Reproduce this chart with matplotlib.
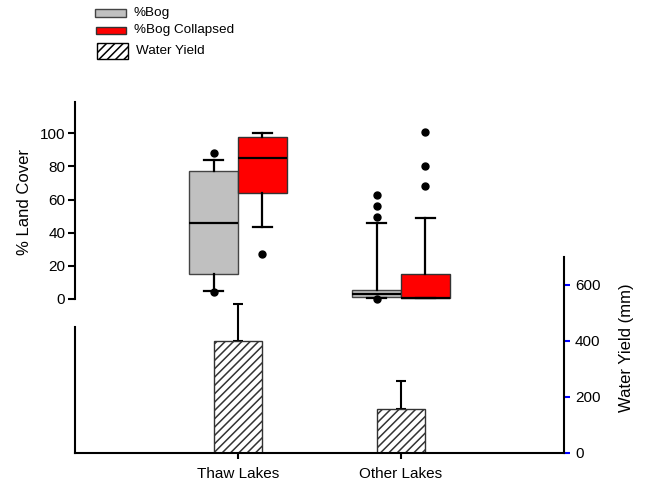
import matplotlib
matplotlib.use("Agg")
import matplotlib.pyplot as plt
from matplotlib.patches import Rectangle

plt.rcParams['font.family'] = ['Liberation Sans', 'DejaVu Sans']
plt.rcParams['hatch.linewidth'] = 1.1

# ---- data ----
categories = ["Thaw Lakes", "Other Lakes"]
# box-plot statistics (% land cover)
bog_whislo = [4.8, 0.8]
bog_q1 = [15.1, 1.4]
bog_med = [46.0, 3.3]
bog_q3 = [77.1, 5.4]
bog_whishi = [83.7, 46.0]
bog_fliers = [[88.1, 4.5], [49.4, 56.0, 62.8, 0.0]]

col_whislo = [43.2, 0.5]
col_q1 = [63.7, 0.5]
col_med = [85.1, 0.5]
col_q3 = [97.8, 15.1]
col_whishi = [100.0, 49.0]
col_fliers = [[27.1], [68.3, 80.1, 100.8]]

# water yield bars (mm)
water_yield = [398, 158]
water_yield_err = [132, 100]

W, H = 646, 487
fig = plt.figure(figsize=(W / 100, H / 100), dpi=100)

def fx(px):
    return px / W

def fy(py):
    return 1 - py / H

left, right = 75, 564
ax_top = fig.add_axes([fx(left), fy(299), fx(right) - fx(left), fy(101.7) - fy(299)])
ax_bot = fig.add_axes([fx(left), fy(453), fx(right) - fx(left), fy(256.7) - fy(453)])

pos = [1, 2]
bw = 0.3

def stats(wl, q1, md, q3, wh, fl):
    return [dict(whislo=a, q1=b, med=c, q3=d, whishi=e, fliers=f)
            for a, b, c, d, e, f in zip(wl, q1, md, q3, wh, fl)]

common = dict(widths=bw, patch_artist=True, capwidths=0.12,
              whiskerprops=dict(color='black', linewidth=1.6),
              capprops=dict(color='black', linewidth=1.6),
              medianprops=dict(color='black', linewidth=1.6),
              flierprops=dict(marker='o', markerfacecolor='black', markeredgecolor='black',
                              markersize=5, linestyle='none'),
              manage_ticks=False)

b1 = ax_top.bxp(stats(bog_whislo, bog_q1, bog_med, bog_q3, bog_whishi, bog_fliers),
                positions=[p - bw / 2 for p in pos],
                boxprops=dict(facecolor='#c0c0c0', edgecolor='#444444', linewidth=1.0),
                **common)
b2 = ax_top.bxp(stats(col_whislo, col_q1, col_med, col_q3, col_whishi, col_fliers),
                positions=[p + bw / 2 for p in pos],
                boxprops=dict(facecolor='#ff0000', edgecolor='#333333', linewidth=1.0),
                **common)
for b in (b1, b2):
    for k, arts in b.items():
        for a in arts:
            a.set_clip_on(False)

ax_top.set_xlim(0, 3)
ax_top.set_ylim(0, 119)
for s in ['top', 'right', 'bottom']:
    ax_top.spines[s].set_visible(False)
ax_top.spines['left'].set_linewidth(1.5)
ax_top.spines['left'].set_bounds(0, 119)
ax_top.set_yticks([0, 20, 40, 60, 80, 100])
ax_top.tick_params(axis='y', labelsize=11, length=5, width=1.5, pad=2)
ax_top.set_xticks([])
ax_top.patch.set_alpha(0)

# bars
ax_bot.bar(pos, water_yield, width=0.3, color='white', edgecolor='#333333',
           hatch='////', linewidth=1.0, zorder=2)
ax_bot.errorbar(pos, water_yield, yerr=[[0, 0], water_yield_err], fmt='none',
                ecolor='black', elinewidth=1.5, capsize=3.3, capthick=1.5, zorder=1)
ax_bot.set_xlim(0, 3)
ax_bot.set_ylim(0, 700)
ax_bot.spines['top'].set_visible(False)
for s in ['left', 'right', 'bottom']:
    ax_bot.spines[s].set_linewidth(1.5)
ax_bot.spines['left'].set_bounds(0, 450)
ax_bot.yaxis.tick_right()
ax_bot.set_yticks([0, 200, 400, 600])
ax_bot.tick_params(axis='y', which='both', left=False, right=True, labelleft=False,
                   labelright=True, color='blue', labelcolor='black',
                   labelsize=11, length=4, width=1.5, pad=4)
ax_bot.set_xticks(pos)
ax_bot.set_xticklabels(categories)
ax_bot.tick_params(axis='x', labelsize=11, length=4, width=1.5, pad=6)
ax_bot.patch.set_alpha(0)

fig.text(fx(25), fy(202), "% Land Cover", rotation=90, ha='center', va='center', fontsize=12)
fig.text(fx(626), fy(348), "Water Yield (mm)", rotation=90, ha='center', va='center', fontsize=12)

# legend
fig.add_artist(Rectangle((fx(95), fy(17)), fx(126) - fx(95), fy(9) - fy(17),
                         transform=fig.transFigure, facecolor='#c0c0c0', edgecolor='#444444', linewidth=1))
fig.add_artist(Rectangle((fx(96), fy(34)), fx(126) - fx(96), fy(27) - fy(34),
                         transform=fig.transFigure, facecolor='#ff0000', edgecolor='#333333', linewidth=1))
fig.add_artist(Rectangle((fx(97), fy(59)), fx(128) - fx(97), fy(43) - fy(59),
                         transform=fig.transFigure, facecolor='white', edgecolor='black',
                         hatch='////', linewidth=1))
fig.text(fx(134), fy(13), "%Bog", ha='left', va='center', fontsize=9.7)
fig.text(fx(134), fy(30), "%Bog Collapsed", ha='left', va='center', fontsize=9.7)
fig.text(fx(136), fy(51), "Water Yield", ha='left', va='center', fontsize=9.7)

fig.savefig("out.png", dpi=100)
